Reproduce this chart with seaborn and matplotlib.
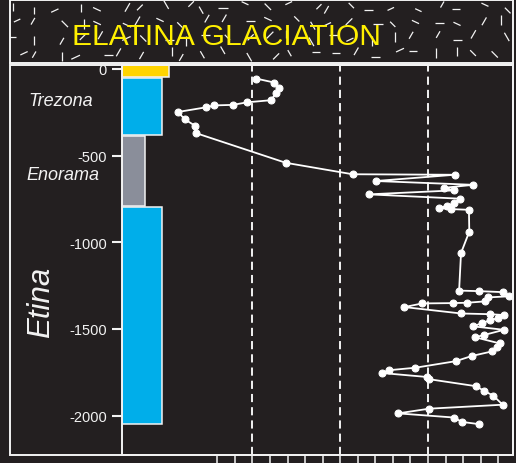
import numpy as np
import pandas as pd
import matplotlib
matplotlib.use("Agg")
import matplotlib.pyplot as plt
from matplotlib.patches import Rectangle
import seaborn as sns

# Carbon-isotope profile through the Etina, Enorama and Trezona formations
d13c = [-4.80, -3.77, -3.49, -3.67, -3.94, -5.29, -6.12, -7.17, -7.64, -9.25,
        -8.84, -8.29, -8.21, -3.10, 0.70, 6.51, 2.02, 7.58, 5.93, 6.48,
        1.62, 6.84, 6.50, 6.06, 5.64, 6.29, 7.33, 7.35, 6.88, 6.77,
        7.90, 9.29, 9.61, 8.43, 8.27, 7.22, 6.40, 4.67, 3.65, 6.89,
        8.53, 9.33, 9.00, 8.53, 8.10, 7.56, 9.33, 8.19, 7.68, 9.10,
        8.91, 8.63, 7.49, 6.58, 4.26, 2.78, 2.36, 4.93, 5.07, 7.72,
        8.21, 8.72, 9.25, 5.06, 3.29, 6.49, 6.92, 7.90]
height_m = [-56, -79, -108, -141, -181, -193, -208, -211, -222, -249,
            -292, -327, -371, -542, -608, -611, -647, -669, -686, -701,
            -724, -749, -776, -790, -803, -809, -813, -939, -1062, -1279,
            -1282, -1288, -1312, -1318, -1341, -1349, -1351, -1353, -1374, -1411,
            -1415, -1420, -1438, -1449, -1466, -1485, -1505, -1535, -1548, -1584,
            -1604, -1630, -1656, -1686, -1724, -1738, -1754, -1777, -1790, -1830,
            -1858, -1885, -1937, -1960, -1987, -2011, -2036, -2049]

# Lithostratigraphic column: top and base of each unit (m) and block extent
unit_top = [22, -55, -387, -795]
unit_base = [-45, -383, -790, -2050]
unit_extent = [-9.75, -10.15, -11.12, -10.15]
unit_colors = ["#ffd400", "#00aeea", "#8a8e9a", "#00aeea"]

y_ticks = [0, -500, -1000, -1500, -2000]
x_guides = [-5, 0, 5]
x_ticks = list(range(-7, 10))
x_range = (-12.43, 9.84)
y_range = (-2227, 22)

BG = "#231f20"
FG = "#f2f2f2"

sns.set_theme(style="dark", rc={"axes.facecolor": BG, "figure.facecolor": BG})
plt.rcParams["font.family"] = ["Liberation Sans", "DejaVu Sans"]

W, H = 516, 464
fig = plt.figure(figsize=(W / 100, H / 100), dpi=100, facecolor=BG)


def fbox(x0, y0, x1, y1):
    """Pixel box (origin top-left) -> figure-fraction rectangle."""
    return [x0 / W, 1 - y1 / H, (x1 - x0) / W, (y1 - y0) / H]


# frame around the label strip and the plotting area
fig.add_artist(Rectangle((10 / W, 1 - 456 / H), (513 - 10) / W, (456 - 66) / H,
                         transform=fig.transFigure, fill=False, ec=FG, lw=1.4))

# ---- header band with diamictite texture ----
band = fig.add_axes(fbox(10, 1, 513, 64))
band.set_facecolor(BG)
band.set_xlim(0, 503)
band.set_ylim(63, 0)
band.set_xticks([])
band.set_yticks([])
for s in band.spines.values():
    s.set_color(FG)
    s.set_linewidth(1.4)

rng = np.random.default_rng(11)
for row_y in (7, 22, 38, 54):
    for col_x in np.arange(8, 500, 21):
        cx = col_x + rng.uniform(-7, 7)
        cy = row_y + rng.uniform(-4, 4)
        ang = rng.choice([0, 25, 45, 60, 90, 120, 135, 155])
        half = rng.uniform(3.5, 5.0)
        dx, dy = half * np.cos(np.radians(ang)), half * np.sin(np.radians(ang))
        band.plot([cx - dx, cx + dx], [cy - dy, cy + dy], color=FG, lw=0.9,
                  solid_capstyle="butt", clip_on=True)

band.text(62, 44, "ELATINA GLACIATION", color="#fff000", fontsize=21.6,
          ha="left", va="baseline", zorder=5)

# ---- main profile ----
ax = fig.add_axes(fbox(122, 66, 513, 456))
ax.set_facecolor(BG)

for top, base, ext, col in zip(unit_top, unit_base, unit_extent, unit_colors):
    ax.bar(x_range[0], top - base, width=ext - x_range[0], bottom=base,
           align="edge", color=col, edgecolor=FG, linewidth=1.1, zorder=2)

for g in x_guides:
    ax.axvline(g, color=FG, lw=1.4, dashes=(4.2, 2.6), zorder=1)

df = pd.DataFrame({"d13C": d13c, "height": height_m})
sns.lineplot(data=df, x="d13C", y="height", sort=False, estimator=None,
             color="white", lw=1.3, marker="o", markersize=5.0,
             markeredgecolor="white", markerfacecolor="white",
             ax=ax, zorder=4, legend=False)

ax.set_xlim(*x_range)
ax.set_ylim(*y_range)
ax.set_xlabel("")
ax.set_ylabel("")
ax.set_yticks(y_ticks)
ax.set_yticklabels([str(t) for t in y_ticks])
ax.set_xticks(x_ticks)
ax.tick_params(axis="y", direction="out", length=7.2, width=1.5, colors=FG,
               labelsize=10.5, pad=3.6, left=True)
ax.tick_params(axis="x", direction="out", length=9, width=1.1, color=FG,
               labelbottom=False, bottom=True)
ax.grid(False)
for s in ax.spines.values():
    s.set_visible(True)
    s.set_color(FG)
    s.set_linewidth(1.4)

# formation names in the label strip
fig.text(28 / W, 1 - 101 / H, "Trezona", style="italic", fontsize=13,
         color=FG, ha="left", va="center")
fig.text(26 / W, 1 - 175 / H, "Enorama", style="italic", fontsize=13,
         color=FG, ha="left", va="center")
fig.text(41 / W, 1 - 302 / H, "Etina", style="italic", fontsize=22.5,
         color=FG, ha="center", va="center", rotation=90)

fig.savefig("out.png", dpi=100, facecolor=BG)
